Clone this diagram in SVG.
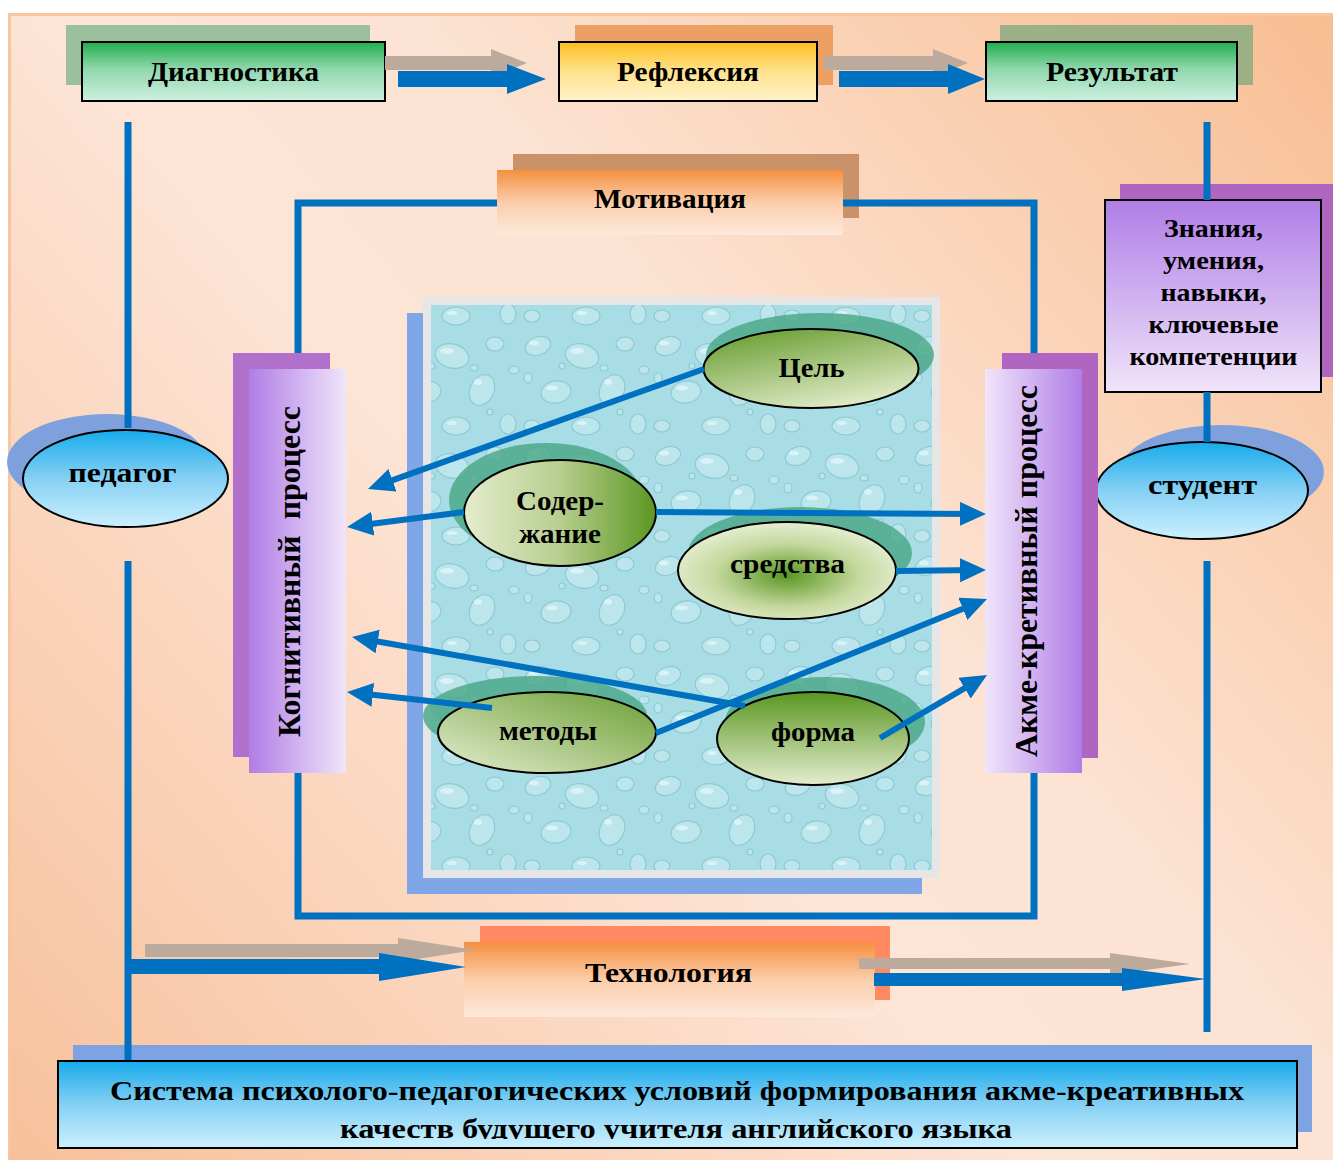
<svg xmlns="http://www.w3.org/2000/svg" width="1333" height="1160" viewBox="0 0 1333 1160">
<defs>
<style>
text { font-family: "Liberation Serif", "Times New Roman", serif; font-weight: bold; fill: #000; }
.t28 { font-size: 28px; }
.t26 { font-size: 26px; }
.box { stroke: #000; stroke-width: 2; }
.line { stroke: #0070c0; stroke-width: 7; fill: none; }
.arr { stroke: #0070c0; stroke-width: 6; fill: none; marker-end: url(#ah); }
.gray { fill: #bcab9d; }
.blue { fill: #0070c0; }
.gsh { fill: #46a685; opacity: 0.8; }
.esh { fill: #7ea1de; }
.dr { fill: #bde6ec; stroke: #8dcad5; stroke-width: 1.2; }
.hl { fill: #d9f3f6; }
</style>
<linearGradient id="bg" gradientUnits="userSpaceOnUse" x1="8" y1="1160" x2="1333" y2="13">
<stop offset="0" stop-color="#f7c09a"/>
<stop offset="0.45" stop-color="#fde5d7"/>
<stop offset="0.6" stop-color="#fce3d3"/>
<stop offset="1" stop-color="#f8bd92"/>
</linearGradient>
<linearGradient id="gGreen" x1="0" y1="0" x2="0" y2="1">
<stop offset="0" stop-color="#1fae4c"/>
<stop offset="0.45" stop-color="#8fd7ac"/>
<stop offset="1" stop-color="#cdf0e0"/>
</linearGradient>
<linearGradient id="gYellow" x1="0" y1="0" x2="0" y2="1">
<stop offset="0" stop-color="#fdbf1f"/>
<stop offset="0.5" stop-color="#fee28c"/>
<stop offset="1" stop-color="#fff2cc"/>
</linearGradient>
<linearGradient id="gOrange" x1="0" y1="0" x2="0" y2="1">
<stop offset="0" stop-color="#f58f3e"/>
<stop offset="0.5" stop-color="#fbcdaa"/>
<stop offset="1" stop-color="#fde9dc"/>
</linearGradient>
<linearGradient id="gPurpleV" x1="0" y1="0" x2="0" y2="1">
<stop offset="0" stop-color="#b07de6"/>
<stop offset="1" stop-color="#f0e5fa"/>
</linearGradient>
<linearGradient id="gPurpleL" x1="0" y1="0" x2="1" y2="0">
<stop offset="0" stop-color="#b07de6"/>
<stop offset="1" stop-color="#f0e5fa"/>
</linearGradient>
<linearGradient id="gPurpleR" x1="0" y1="0" x2="1" y2="0">
<stop offset="0" stop-color="#f0e5fa"/>
<stop offset="1" stop-color="#b07de6"/>
</linearGradient>
<linearGradient id="gBlue" x1="0" y1="0" x2="0" y2="1">
<stop offset="0" stop-color="#16abec"/>
<stop offset="0.5" stop-color="#85d0f4"/>
<stop offset="1" stop-color="#ccf0fd"/>
</linearGradient>
<linearGradient id="gCel" x1="0.1" y1="0" x2="0.6" y2="1">
<stop offset="0" stop-color="#659c2e"/>
<stop offset="1" stop-color="#e0eac6"/>
</linearGradient>
<linearGradient id="gSod" x1="0" y1="0" x2="1" y2="0">
<stop offset="0" stop-color="#e4ecce"/>
<stop offset="0.5" stop-color="#b8ce8e"/>
<stop offset="1" stop-color="#5a9722"/>
</linearGradient>
<radialGradient id="gSred" cx="0.5" cy="0.55" r="0.55">
<stop offset="0" stop-color="#5a9722"/>
<stop offset="0.6" stop-color="#c5d89e"/>
<stop offset="1" stop-color="#e6eed2"/>
</radialGradient>
<linearGradient id="gMet" x1="0" y1="1" x2="1" y2="0">
<stop offset="0" stop-color="#e4ecce"/>
<stop offset="1" stop-color="#6a9f34"/>
</linearGradient>
<linearGradient id="gForm" x1="0" y1="0" x2="0" y2="1">
<stop offset="0" stop-color="#5a9722"/>
<stop offset="1" stop-color="#e4ecce"/>
</linearGradient>
<pattern id="drops" width="130" height="110" patternUnits="userSpaceOnUse">
<rect width="130" height="110" fill="#a9dde5"/>
<ellipse class="dr" cx="18" cy="16" rx="13" ry="9" transform="rotate(-20 18 16)"/>
<ellipse class="hl" cx="14" cy="13" rx="5" ry="2.5"/>
<ellipse class="dr" cx="62" cy="26" rx="17" ry="12" transform="rotate(15 62 26)"/>
<ellipse class="hl" cx="57" cy="21" rx="7" ry="3"/>
<ellipse class="dr" cx="105" cy="14" rx="9" ry="7"/>
<ellipse class="dr" cx="36" cy="62" rx="15" ry="11" transform="rotate(-10 36 62)"/>
<ellipse class="hl" cx="32" cy="58" rx="6" ry="2.5"/>
<ellipse class="dr" cx="92" cy="60" rx="12" ry="16" transform="rotate(25 92 60)"/>
<ellipse class="hl" cx="88" cy="52" rx="4" ry="3"/>
<ellipse class="dr" cx="12" cy="96" rx="8" ry="6"/>
<ellipse class="dr" cx="66" cy="96" rx="14" ry="9"/>
<ellipse class="hl" cx="62" cy="93" rx="5" ry="2"/>
<ellipse class="dr" cx="118" cy="94" rx="8" ry="10"/>
<ellipse class="dr" cx="84" cy="38" rx="4" ry="3"/>
<ellipse class="dr" cx="8" cy="48" rx="4" ry="5"/>
<ellipse class="dr" cx="124" cy="40" rx="5" ry="4"/>
<ellipse class="dr" cx="42" cy="36" rx="3" ry="3"/>
<ellipse class="dr" cx="100" cy="82" rx="3" ry="3"/>
</pattern>
<clipPath id="bottomClip"><rect x="58" y="1061" width="1239" height="78"/></clipPath>
<marker id="ah" markerUnits="userSpaceOnUse" markerWidth="28" markerHeight="26" refX="16" refY="12" orient="auto">
<path d="M0,0 L26,12 L0,24 Z" fill="#0070c0"/>
</marker>
</defs>

<rect x="0" y="0" width="1333" height="1160" fill="#ffffff"/>
<rect x="8" y="13" width="1325" height="1147" fill="url(#bg)"/>
<path d="M9.5,1160 V14.5 H1333" fill="none" stroke="#f7c5a0" stroke-width="3"/>

<g id="water-panel">
<rect x="407" y="313" width="515" height="581" fill="#7fa6e6"/>
<rect x="423" y="297" width="517" height="581" fill="#e6e6e6"/>
<rect x="431" y="305" width="501" height="565" fill="url(#drops)"/>
</g>

<g id="diagnostika">
<rect x="66" y="25" width="304" height="60" fill="#9bc09b"/>
<rect class="box" x="82" y="42" width="303" height="59" fill="url(#gGreen)"/>
<text class="t28" x="233.5" y="81" text-anchor="middle" textLength="171" lengthAdjust="spacingAndGlyphs">Диагностика</text>
</g>
<g id="refleksiya">
<rect x="575" y="25" width="258" height="60" fill="#eca064"/>
<rect class="box" x="559" y="42" width="258" height="59" fill="url(#gYellow)"/>
<text class="t28" x="688" y="81" text-anchor="middle" textLength="142" lengthAdjust="spacingAndGlyphs">Рефлексия</text>
</g>
<g id="rezultat">
<rect x="1000" y="25" width="253" height="60" fill="#9bb084"/>
<rect class="box" x="986" y="42" width="251" height="59" fill="url(#gGreen)"/>
<text class="t28" x="1112" y="81" text-anchor="middle" textLength="132" lengthAdjust="spacingAndGlyphs">Результат</text>
</g>
<g id="motivaciya">
<rect x="513" y="154" width="346" height="64" fill="#c99268"/>
<rect x="497" y="170" width="346" height="65" fill="url(#gOrange)"/>
<text class="t28" x="670" y="208" text-anchor="middle" textLength="152" lengthAdjust="spacingAndGlyphs">Мотивация</text>
</g>
<g id="znaniya">
<rect x="1120" y="184" width="213" height="193" fill="#b066c0"/>
<rect class="box" x="1105" y="200" width="216" height="192" fill="url(#gPurpleV)"/>
<text class="t26" x="1213.5" y="237" text-anchor="middle" textLength="99" lengthAdjust="spacingAndGlyphs">Знания,</text>
<text class="t26" x="1213.5" y="269" text-anchor="middle" textLength="101" lengthAdjust="spacingAndGlyphs">умения,</text>
<text class="t26" x="1213.5" y="301" text-anchor="middle" textLength="106" lengthAdjust="spacingAndGlyphs">навыки,</text>
<text class="t26" x="1213.5" y="333" text-anchor="middle" textLength="130" lengthAdjust="spacingAndGlyphs">ключевые</text>
<text class="t26" x="1213.5" y="365" text-anchor="middle" textLength="168" lengthAdjust="spacingAndGlyphs">компетенции</text>
</g>
<g id="pedagog">
<ellipse class="esh" cx="107" cy="462" rx="100" ry="48"/>
<ellipse class="box" cx="125.5" cy="478.5" rx="102.5" ry="48.5" fill="url(#gBlue)"/>
<text class="t28" x="122.5" y="482" text-anchor="middle" textLength="108" lengthAdjust="spacingAndGlyphs">педагог</text>
</g>
<g id="student">
<ellipse class="esh" cx="1222" cy="472" rx="102" ry="47"/>
<ellipse class="box" cx="1202" cy="490.5" rx="106" ry="48.5" fill="url(#gBlue)"/>
<text class="t28" x="1202.5" y="494" text-anchor="middle" textLength="109" lengthAdjust="spacingAndGlyphs">студент</text>
</g>
<g id="kognitivnyi">
<rect x="233" y="353" width="97" height="404" fill="#b070cc"/>
<rect x="249" y="369" width="97" height="404" fill="url(#gPurpleL)"/>
<text font-size="31" xml:space="preserve" transform="translate(300,571.5) rotate(-90)" x="0" y="0" text-anchor="middle" textLength="331" lengthAdjust="spacingAndGlyphs">Когнитивный  процесс</text>
</g>
<g id="akme">
<rect x="1002" y="353" width="96" height="405" fill="#b066c0"/>
<rect x="985" y="369" width="97" height="404" fill="url(#gPurpleR)"/>
<text font-size="31" transform="translate(1037,571) rotate(-90)" x="0" y="0" text-anchor="middle" textLength="372" lengthAdjust="spacingAndGlyphs">Акме-кретивный процесс</text>
</g>
<g id="cel">
<ellipse class="gsh" cx="820" cy="355" rx="114" ry="42"/>
<ellipse class="box" cx="811" cy="368.5" rx="107.5" ry="39.5" fill="url(#gCel)"/>
<text class="t28" x="811.5" y="377" text-anchor="middle" textLength="66" lengthAdjust="spacingAndGlyphs">Цель</text>
</g>
<g id="soderzhanie">
<ellipse class="gsh" cx="546" cy="500" rx="97" ry="57"/>
<ellipse class="box" cx="560" cy="513" rx="96" ry="53" fill="url(#gSod)"/>
<text class="t28" x="560" y="510" text-anchor="middle" textLength="88" lengthAdjust="spacingAndGlyphs">Содер-</text>
<text class="t28" x="560" y="543" text-anchor="middle" textLength="82" lengthAdjust="spacingAndGlyphs">жание</text>
</g>
<g id="sredstva">
<ellipse class="gsh" cx="800" cy="553" rx="112" ry="46"/>
<ellipse class="box" cx="787" cy="570.5" rx="109" ry="48.5" fill="url(#gSred)"/>
<text class="t28" x="787.5" y="573" text-anchor="middle" textLength="115" lengthAdjust="spacingAndGlyphs">средства</text>
</g>
<g id="metody">
<ellipse class="gsh" cx="535" cy="716" rx="112" ry="40"/>
<ellipse class="box" cx="547" cy="732.5" rx="109" ry="40.5" fill="url(#gMet)"/>
<text class="t28" x="548" y="740" text-anchor="middle" textLength="98" lengthAdjust="spacingAndGlyphs">методы</text>
</g>
<g id="forma">
<ellipse class="gsh" cx="825" cy="722" rx="100" ry="45"/>
<ellipse class="box" cx="813" cy="738.5" rx="96" ry="46.5" fill="url(#gForm)"/>
<text class="t28" x="813" y="741" text-anchor="middle" textLength="84" lengthAdjust="spacingAndGlyphs">форма</text>
</g>
<g id="tehnologiya">
<rect x="480" y="926" width="410" height="74" fill="#ff8a62"/>
<rect x="464" y="942" width="411" height="75" fill="url(#gOrange)"/>
<text class="t28" x="668.5" y="982" text-anchor="middle" textLength="167" lengthAdjust="spacingAndGlyphs">Технология</text>
</g>
<g id="sistema">
<rect x="73" y="1045" width="1239" height="87" fill="#7ea3e2"/>
<rect class="box" x="58" y="1061" width="1239" height="87" fill="url(#gBlue)"/>
<g clip-path="url(#bottomClip)">
<text class="t28" x="677" y="1100" text-anchor="middle" textLength="1134" lengthAdjust="spacingAndGlyphs">Система психолого-педагогических условий формирования акме-креативных</text>
<text class="t28" x="676" y="1138" text-anchor="middle" textLength="672" lengthAdjust="spacingAndGlyphs">качеств будущего учителя английского языка</text>
</g>
</g>

<g id="connectors">
<path class="line" d="M128,122 V428"/>
<path class="line" d="M128,561 V1060"/>
<path class="line" d="M1207,122 V200"/>
<path class="line" d="M1207,392 V442"/>
<path class="line" d="M1207,561 V1032"/>
<path class="line" d="M497,203 H298 V353"/>
<path class="line" d="M843,203 H1034 V353"/>
<path class="line" d="M298,773 V916 H1034 V773"/>
<polygon class="gray" points="385,56 491,56 491,49 527,63 491,77 491,70 385,70"/>
<polygon class="blue" points="398,71 507,71 507,64 546,79 507,94 507,87 398,87"/>
<polygon class="gray" points="824,56 933,56 933,49 968,63 933,77 933,70 824,70"/>
<polygon class="blue" points="839,71 948,71 948,64 985,79 948,94 948,87 839,87"/>
<polygon class="gray" points="145,944 398,944 398,938 476,950 398,962 398,957 145,957"/>
<polygon class="blue" points="128,959 379,959 379,953 466,967 379,981 379,974 128,974"/>
<polygon class="gray" points="859,958 1110,958 1110,953 1190,964 1110,975 1110,969 859,969"/>
<polygon class="blue" points="874,973 1122,973 1122,968 1206,979 1122,991 1122,986 874,986"/>
<line class="arr" x1="704" y1="369" x2="377.4" y2="485.6"/>
<line class="arr" x1="464" y1="512" x2="356.9" y2="525.7"/>
<line class="arr" x1="745" y1="706" x2="361.9" y2="638.7"/>
<line class="arr" x1="492" y1="708" x2="356.9" y2="693.1"/>
<line class="arr" x1="656" y1="512" x2="976" y2="514"/>
<line class="arr" x1="896" y1="571" x2="976" y2="570"/>
<line class="arr" x1="656" y1="733" x2="977.7" y2="602.8"/>
<line class="arr" x1="880" y1="738" x2="978.4" y2="680.1"/>
</g>
</svg>
